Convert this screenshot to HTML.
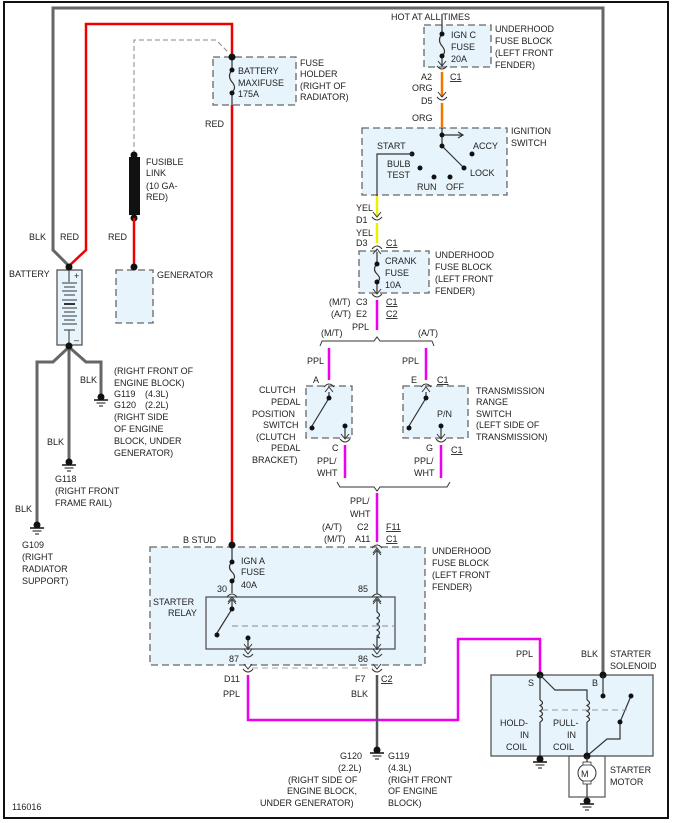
<!DOCTYPE html>
<html><head><meta charset="utf-8"><style>
html,body{margin:0;padding:0;background:#fff}
svg{display:block}
text{font-family:"Liberation Sans",sans-serif;font-size:9px;fill:#222}
.box{fill:#e8f4fb;stroke:#666;stroke-width:1.3;stroke-dasharray:7,4}
.sb{fill:#e8f4fb;stroke:#555;stroke-width:1.3}
.w{fill:none;stroke:#333;stroke-width:1.2}
.c{fill:none;stroke:#333;stroke-width:1}
</style></head><body>
<svg width="684" height="823" viewBox="0 0 684 823" xmlns="http://www.w3.org/2000/svg">
<defs>
<g id="gnd"><circle cx="0" cy="0" r="3.5" fill="#111"/><line x1="-7" y1="3" x2="7" y2="3" stroke="#111" stroke-width="1.5"/><line x1="-4.5" y1="6" x2="4.5" y2="6" stroke="#111"/><line x1="-2" y1="9" x2="2" y2="9" stroke="#111"/></g>
<g id="cd"><path d="M-5,-3 Q0,3 5,-3" class="c"/><path d="M-4,-8 L0,-3 L4,-8" class="c"/></g>
<g id="cu"><path d="M-5,3 Q0,-3 5,3" class="c"/><path d="M-4,8 L0,3 L4,8" class="c"/></g>
</defs>
<rect x="4" y="2" width="664" height="816" fill="none" stroke="#111" stroke-width="2"/>

<rect class="box" x="213" y="57" width="83" height="48"/>
<rect class="box" x="116" y="270" width="37" height="53"/>
<rect class="box" x="424" y="25" width="67" height="42"/>
<rect class="box" x="362" y="128" width="145" height="67"/>
<rect class="box" x="359" y="251" width="70" height="42"/>
<rect class="box" x="306" y="386" width="46" height="52"/>
<rect class="box" x="403" y="386" width="65" height="52"/>
<rect class="box" x="150" y="547" width="275" height="118"/>
<rect class="sb" x="206" y="597" width="189" height="52"/>
<rect class="sb" x="491" y="675" width="162" height="81"/>
<rect fill="none" stroke="#555" stroke-width="1.2" x="569" y="756" width="36" height="41"/>

<path d="M69,266 L53,250 L53,8 L603,8 L603,677" fill="none" stroke="#666" stroke-width="3"/>
<path d="M69,266 L86,250 L86,24 L232,24 L232,57" fill="none" stroke="#e00" stroke-width="2.5"/>
<path d="M232,105 L232,545" fill="none" stroke="#e00" stroke-width="2.5"/>
<path d="M232,57 L232,68 M232,94 L232,105" class="w"/>
<path d="M232,70 Q227,76 232,82 Q237,88 232,92" class="w"/>
<circle cx="232" cy="57" r="3.5" fill="#111"/><circle cx="232" cy="70" r="2.5" fill="#111"/><circle cx="232" cy="93" r="2.5" fill="#111"/>
<path d="M134,155 L134,40 L216,40 L228,52" fill="none" stroke="#888" stroke-width="1" stroke-dasharray="5,3"/>
<rect x="129" y="157" width="11" height="58" fill="#111"/>
<circle cx="134" cy="155" r="3.5" fill="#111"/><circle cx="134" cy="218" r="3.5" fill="#111"/>
<path d="M134,218 L134,267" stroke="#e00" stroke-width="2.5"/>
<circle cx="134" cy="267" r="3.5" fill="#111"/>

<rect class="sb" x="57" y="270" width="25" height="75"/>
<circle cx="69" cy="267" r="3.5" fill="#111"/>
<g stroke="#333" stroke-width="1">
<line x1="69" y1="270" x2="69" y2="282"/><line x1="62" y1="283" x2="77" y2="283"/><line x1="64" y1="287" x2="75" y2="287"/><line x1="62" y1="291" x2="77" y2="291"/><line x1="64" y1="295" x2="75" y2="295"/><line x1="62" y1="300" x2="77" y2="300"/><line x1="64" y1="304" x2="75" y2="304" stroke-width="2"/><line x1="62" y1="308" x2="77" y2="308"/><line x1="64" y1="312" x2="75" y2="312"/><line x1="62" y1="316" x2="77" y2="316"/><line x1="64" y1="320" x2="75" y2="320"/><line x1="62" y1="324" x2="77" y2="324"/><line x1="64" y1="330" x2="75" y2="330"/><line x1="69" y1="330" x2="69" y2="345"/>
</g>
<text x="74" y="279" font-size="7">+</text><text x="74" y="343" font-size="7">–</text>
<path d="M69,347 L53,362 L37,362 L37,523 M69,347 L69,460 M69,347 L86,362 L101,362 L101,394" fill="none" stroke="#666" stroke-width="3"/>
<circle cx="69" cy="346" r="3.5" fill="#111"/>
<use href="#gnd" x="101" y="397"/><use href="#gnd" x="69" y="462"/><use href="#gnd" x="37" y="525"/>

<path d="M442,14 L442,32 M442,58 L442,66" class="w"/>
<path d="M442,34 Q437,40 442,46 Q447,52 442,56" class="w"/>
<circle cx="442" cy="34" r="2.5" fill="#111"/><circle cx="442" cy="56" r="2.5" fill="#111"/>
<use href="#cd" x="442" y="69"/>
<path d="M442,72 L442,97 M442,103 L442,128" stroke="#f07800" stroke-width="2.5"/>
<use href="#cd" x="442" y="100"/>
<path d="M442,128 L442,146 L464,168" class="w"/>
<path d="M442,135 L462,135" class="w"/><path d="M458,132 L463,135 L458,138" class="w"/>
<circle cx="442" cy="135" r="2.5" fill="#111"/><circle cx="442" cy="146" r="2.5" fill="#111"/><circle cx="464" cy="168" r="2.5" fill="#111"/>
<circle cx="472" cy="154" r="2.5" fill="#111"/><circle cx="420" cy="168" r="2.5" fill="#111"/>
<circle cx="434" cy="177" r="2.5" fill="#111"/><circle cx="450" cy="177" r="2.5" fill="#111"/>
<circle cx="412" cy="154" r="2.5" fill="#111"/>
<path d="M412,154 L377,154 L377,196" class="w"/>
<path d="M377,196 L377,217 M377,223 L377,243" stroke="#ee0" stroke-width="2.5"/>
<use href="#cd" x="377" y="220"/><use href="#cu" x="377" y="246"/>
<path d="M377,252 L377,262 M377,283 L377,293" class="w"/>
<path d="M377,264 Q372,269 377,274 Q382,279 377,282" class="w"/>
<circle cx="377" cy="264" r="2.5" fill="#111"/><circle cx="377" cy="282" r="2.5" fill="#111"/>
<use href="#cd" x="377" y="297"/>
<path d="M377,300 L377,330" stroke="#e0e" stroke-width="2.5"/>
<path d="M320,346 L322,341 L374,341 L377,337 L380,341 L432,341 L434,346" class="c"/>
<path d="M329,348 L329,380 M426,348 L426,380" stroke="#e0e" stroke-width="2.5"/>
<use href="#cu" x="329" y="384"/><use href="#cu" x="426" y="384"/>
<path d="M329,392 L329,398 L312,426" class="w"/><circle cx="329" cy="398" r="2.5" fill="#111"/><circle cx="312" cy="428" r="2.5" fill="#111"/>
<path d="M345,426 L345,438" class="w"/><circle cx="345" cy="426" r="2.5" fill="#111"/>
<use href="#cd" x="345" y="442"/>
<path d="M426,392 L426,398 L409,426" class="w"/><circle cx="426" cy="398" r="2.5" fill="#111"/><circle cx="409" cy="428" r="2.5" fill="#111"/>
<path d="M441,426 L441,438" class="w"/><circle cx="441" cy="426" r="2.5" fill="#111"/>
<use href="#cd" x="441" y="442"/>
<path d="M345,445 L345,478 M441,445 L441,478" stroke="#e0e" stroke-width="2.5"/>
<path d="M337,482 L340,487 L374,487 L377,491 L380,487 L447,487 L450,482" class="c"/>
<path d="M377,493 L377,542" stroke="#e0e" stroke-width="2.5"/>
<use href="#cu" x="377" y="545"/>

<path d="M232,545 L232,560 M232,583 L232,593" class="w"/>
<circle cx="232" cy="545" r="3.5" fill="#111"/>
<path d="M232,562 Q227,567 232,572 Q237,577 232,581" class="w"/>
<circle cx="232" cy="562" r="2.5" fill="#111"/><circle cx="232" cy="581" r="2.5" fill="#111"/>
<use href="#cu" x="232" y="594"/><path d="M232,600 L232,609 L217,633" class="w"/>
<path d="M228,604 L232,599 L236,604" class="c"/>
<circle cx="232" cy="609" r="2.5" fill="#111"/><circle cx="217" cy="635" r="2.5" fill="#111"/>
<path d="M232,626 L395,626" stroke="#888" stroke-dasharray="6,4"/>
<path d="M248,638 L248,650" class="w"/><circle cx="248" cy="638" r="2.5" fill="#111"/>
<path d="M244,644 L248,649 L252,644" class="c"/>
<use href="#cd" x="248" y="657"/><use href="#cd" x="248" y="672"/>
<path d="M377,550 L377,594 M377,600 L377,612 M377,637 L377,650" class="w"/>
<path d="M373,555 L377,550 L381,555" class="c"/>
<use href="#cu" x="377" y="594"/><path d="M373,604 L377,599 L381,604" class="c"/>
<path d="M377,612 q5,3 0,6 q5,3 0,6 q5,3 0,6 q5,3 0,6 q5,3 0,1" class="w"/>
<path d="M373,644 L377,649 L381,644" class="c"/>
<use href="#cd" x="377" y="657"/><use href="#cd" x="377" y="672"/>
<path d="M252,668 L373,668" stroke="#aaa" stroke-dasharray="6,4"/>
<path d="M248,675 L248,720 L458,720 L458,639 L540,639 L540,675" fill="none" stroke="#e0e" stroke-width="2.5"/>
<path d="M377,675 L377,747" stroke="#555" stroke-width="2.5"/>
<use href="#gnd" x="377" y="750"/>

<circle cx="540" cy="675" r="3.5" fill="#111"/><circle cx="603" cy="675" r="3.5" fill="#111"/>
<path d="M603,675 L603,696" class="w"/><circle cx="603" cy="696" r="2.5" fill="#111"/>
<path d="M540,675 L540,700 M540,722 L540,756 M540,675 L555,690 L587,690 L587,700 M587,722 L587,756 L607,739 L620,739 L620,722 L631,696" class="w"/>
<path d="M540,700 q5,3 0,5.5 q5,3 0,5.5 q5,3 0,5.5 q5,3 0,5.5 M587,700 q5,3 0,5.5 q5,3 0,5.5 q5,3 0,5.5 q5,3 0,5.5" class="w"/>
<circle cx="620" cy="722" r="2.5" fill="#111"/><circle cx="631" cy="696" r="2.5" fill="#111"/>
<path d="M542,710 L627,710" stroke="#999" stroke-dasharray="6,4"/>
<circle cx="587" cy="756" r="3.5" fill="#111"/>
<use href="#gnd" x="540" y="759"/>
<path d="M587,756 L587,797" class="w"/>
<circle cx="587" cy="773" r="9" fill="#fff" stroke="#333"/>
<rect x="583" y="762" width="8" height="3" fill="#fff" stroke="#333" stroke-width=".8"/><rect x="583" y="781" width="8" height="3" fill="#fff" stroke="#333" stroke-width=".8"/>
<text x="581" y="777" font-size="10">M</text>
<use href="#gnd" x="587" y="801"/>

<text x="300" y="66">FUSE</text><text x="300" y="77">HOLDER</text><text x="300" y="89">(RIGHT OF</text><text x="300" y="100">RADIATOR)</text>
<text x="238" y="74">BATTERY</text><text x="238" y="86">MAXIFUSE</text><text x="238" y="97">175A</text>
<text x="205" y="127">RED</text>
<text x="146" y="165">FUSIBLE</text><text x="146" y="176">LINK</text><text x="146" y="189">(10 GA-</text><text x="146" y="200">RED)</text>
<text x="29" y="240">BLK</text><text x="60" y="240">RED</text><text x="108" y="240">RED</text>
<text x="9" y="277">BATTERY</text><text x="157" y="278">GENERATOR</text>
<text x="80" y="383">BLK</text>
<text x="114" y="374">(RIGHT FRONT OF</text><text x="114" y="386">ENGINE BLOCK)</text><text x="114" y="397">G119</text><text x="145" y="397">(4.3L)</text><text x="114" y="408">G120</text><text x="145" y="408">(2.2L)</text><text x="114" y="420">(RIGHT SIDE</text><text x="114" y="432">OF ENGINE</text><text x="114" y="444">BLOCK, UNDER</text><text x="114" y="456">GENERATOR)</text>
<text x="47" y="445">BLK</text>
<text x="55" y="482">G118</text><text x="55" y="494">(RIGHT FRONT</text><text x="55" y="506">FRAME RAIL)</text>
<text x="15" y="512">BLK</text>
<text x="22" y="548">G109</text><text x="22" y="560">(RIGHT</text><text x="22" y="572">RADIATOR</text><text x="22" y="584">SUPPORT)</text>
<text x="12" y="810">116016</text>

<text x="391" y="20">HOT AT ALL TIMES</text>
<text x="451" y="38">IGN C</text><text x="451" y="50">FUSE</text><text x="451" y="62">20A</text>
<text x="495" y="32">UNDERHOOD</text><text x="495" y="44">FUSE BLOCK</text><text x="495" y="56">(LEFT FRONT</text><text x="495" y="68">FENDER)</text>
<text x="421" y="80">A2</text><text x="450" y="80" text-decoration="underline">C1</text>
<text x="412" y="91">ORG</text><text x="421" y="104">D5</text><text x="412" y="121">ORG</text>
<text x="511" y="134">IGNITION</text><text x="511" y="146">SWITCH</text>
<text x="377" y="149">START</text><text x="473" y="149">ACCY</text>
<text x="387" y="167">BULB</text><text x="387" y="178">TEST</text><text x="470" y="176">LOCK</text>
<text x="417" y="190">RUN</text><text x="446" y="190">OFF</text>
<text x="356" y="211">YEL</text><text x="356" y="223">D1</text><text x="356" y="236">YEL</text><text x="356" y="246">D3</text><text x="386" y="246" text-decoration="underline">C1</text>
<text x="385" y="264">CRANK</text><text x="385" y="276">FUSE</text><text x="385" y="288">10A</text>
<text x="435" y="258">UNDERHOOD</text><text x="435" y="270">FUSE BLOCK</text><text x="435" y="282">(LEFT FRONT</text><text x="435" y="294">FENDER)</text>
<text x="329" y="305">(M/T)</text><text x="356" y="305">C3</text><text x="386" y="305" text-decoration="underline">C1</text>
<text x="331" y="317">(A/T)</text><text x="356" y="317">E2</text><text x="386" y="317" text-decoration="underline">C2</text>
<text x="352" y="330">PPL</text>
<text x="321" y="336">(M/T)</text><text x="418" y="336">(A/T)</text>
<text x="307" y="364">PPL</text><text x="402" y="364">PPL</text>
<text x="313" y="383">A</text><text x="411" y="383">E</text><text x="437" y="383" text-decoration="underline">C1</text>
<text x="259" y="393">CLUTCH</text><text x="271" y="405">PEDAL</text><text x="252" y="417">POSITION</text><text x="263" y="428">SWITCH</text><text x="256" y="440">(CLUTCH</text><text x="271" y="451">PEDAL</text><text x="252" y="463">BRACKET)</text>
<text x="476" y="394">TRANSMISSION</text><text x="476" y="405">RANGE</text><text x="476" y="417">SWITCH</text><text x="476" y="428">(LEFT SIDE OF</text><text x="476" y="440">TRANSMISSION)</text>
<text x="437" y="417">P/N</text>
<text x="332" y="451">C</text><text x="426" y="451">G</text><text x="451" y="453" text-decoration="underline">C1</text>
<text x="317" y="464">PPL/</text><text x="317" y="476">WHT</text><text x="414" y="464">PPL/</text><text x="414" y="476">WHT</text>
<text x="350" y="504">PPL/</text><text x="350" y="517">WHT</text>
<text x="322" y="530">(A/T)</text><text x="357" y="530">C2</text><text x="386" y="530" text-decoration="underline">F11</text>
<text x="324" y="542">(M/T)</text><text x="355" y="542">A11</text><text x="386" y="542" text-decoration="underline">C1</text>
<text x="183" y="543">B STUD</text>
<text x="241" y="564">IGN A</text><text x="241" y="575">FUSE</text><text x="241" y="588">40A</text>
<text x="432" y="554">UNDERHOOD</text><text x="432" y="566">FUSE BLOCK</text><text x="432" y="578">(LEFT FRONT</text><text x="432" y="590">FENDER)</text>
<text x="217" y="592">30</text><text x="358" y="592">85</text>
<text x="153" y="605">STARTER</text><text x="168" y="616">RELAY</text>
<text x="229" y="662">87</text><text x="358" y="662">86</text>
<text x="224" y="682">D11</text><text x="355" y="682">F7</text><text x="381" y="682" text-decoration="underline">C2</text>
<text x="223" y="697">PPL</text><text x="351" y="697">BLK</text>
<text x="340" y="759">G120</text><text x="388" y="759">G119</text>
<text x="338" y="771">(2.2L)</text><text x="388" y="771">(4.3L)</text>
<text x="288" y="783">(RIGHT SIDE OF</text><text x="388" y="783">(RIGHT FRONT</text>
<text x="287" y="794">ENGINE BLOCK,</text><text x="388" y="794">OF ENGINE</text>
<text x="260" y="806">UNDER GENERATOR)</text><text x="388" y="806">BLOCK)</text>
<text x="516" y="657">PPL</text><text x="581" y="657">BLK</text>
<text x="610" y="657">STARTER</text><text x="610" y="669">SOLENOID</text>
<text x="528" y="686">S</text><text x="592" y="686">B</text>
<text x="500" y="726">HOLD-</text><text x="520" y="738">IN</text><text x="506" y="750">COIL</text>
<text x="553" y="726">PULL-</text><text x="567" y="738">IN</text><text x="553" y="750">COIL</text>
<text x="610" y="773">STARTER</text><text x="610" y="785">MOTOR</text>
</svg>
</body></html>
